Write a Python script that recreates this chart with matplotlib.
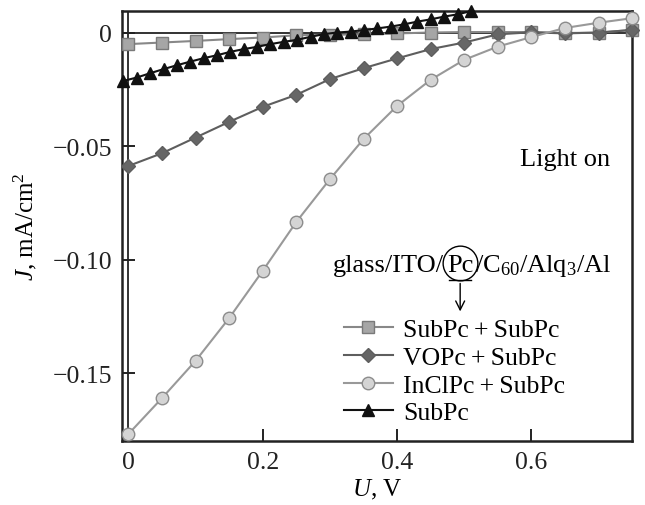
import matplotlib
matplotlib.use("Agg")
import matplotlib.pyplot as plt

plt.rcParams['font.family'] = ['Liberation Serif', 'DejaVu Serif']
plt.rcParams['mathtext.fontset'] = 'custom'
plt.rcParams['mathtext.rm'] = 'Liberation Serif'
plt.rcParams['mathtext.it'] = 'Liberation Serif:italic'

# ---- data ----
u_main = [0.0, 0.05, 0.10, 0.15, 0.20, 0.25, 0.30, 0.35, 0.40, 0.45, 0.50, 0.55, 0.60, 0.65, 0.70, 0.75]
j_subpc_subpc = [-0.0051, -0.0044, -0.0037, -0.0029, -0.0022, -0.0012, -0.0010, -0.0008, -0.0004, 0.0,
                 0.0002, 0.0002, 0.0002, -0.0002, -0.0001, 0.0012]
j_vopc_subpc = [-0.0587, -0.0531, -0.0462, -0.0393, -0.0327, -0.0274, -0.0205, -0.0157, -0.0114, -0.0073,
                -0.0044, -0.0008, 0.0001, -0.0004, 0.0, 0.0011]
j_inclpc_subpc = [-0.1766, -0.1608, -0.1444, -0.1256, -0.1048, -0.0833, -0.0645, -0.0469, -0.0323, -0.0208,
                  -0.0120, -0.0062, -0.0020, 0.0020, 0.0043, 0.0063]
u_subpc = [-0.0075, 0.0124, 0.0323, 0.0522, 0.0721, 0.0920, 0.1119, 0.1318, 0.1517, 0.1716, 0.1915,
           0.2114, 0.2313, 0.2512, 0.2711, 0.2910, 0.3109, 0.3308, 0.3507, 0.3706, 0.3905, 0.4104,
           0.4303, 0.4502, 0.4701, 0.4900, 0.5099]
j_subpc = [-0.0213, -0.0198, -0.0179, -0.0161, -0.0144, -0.0128, -0.0113, -0.0100, -0.0085, -0.0073,
           -0.0063, -0.0051, -0.0041, -0.0032, -0.0019, -0.0007, 0.0, 0.0004, 0.0011, 0.0018, 0.0026,
           0.0036, 0.0048, 0.0058, 0.0070, 0.0080, 0.0094]

labels = ["SubPc\u2009+\u2009SubPc", "VOPc\u2009+\u2009SubPc", "InClPc\u2009+\u2009SubPc", "SubPc"]
x_ticks = [0, 0.2, 0.4, 0.6]
x_ticklabels = ["0", "0.2", "0.4", "0.6"]
y_ticks = [0, -0.05, -0.10, -0.15]
y_ticklabels = ["0", "\u22120.05", "\u22120.10", "\u22120.15"]

fig = plt.figure(figsize=(6.45, 5.06), dpi=100)
ax = fig.add_axes([0.189, 0.1265, 0.791, 0.8495])

ax.axhline(0, color='#333333', lw=1.4, zorder=1)
ax.axvline(0, color='#333333', lw=1.4, zorder=1)

l1, = ax.plot(u_main, j_subpc_subpc, '-s', color='#888888', mfc='#a6a6a6', mec='#7a7a7a',
              ms=9, lw=1.5, mew=1.0, zorder=3, clip_on=False)
l2, = ax.plot(u_main, j_vopc_subpc, '-D', color='#5e5e5e', mfc='#666666', mec='#5e5e5e',
              ms=7.5, lw=1.5, mew=1.0, zorder=4, clip_on=False)
l3, = ax.plot(u_main, j_inclpc_subpc, '-o', color='#999999', mfc='#d4d4d4', mec='#8c8c8c',
              ms=9, lw=1.5, mew=1.0, zorder=5, clip_on=False)
l4, = ax.plot(u_subpc, j_subpc, '-^', color='#111111', mfc='#111111', mec='#111111',
              ms=9, lw=1.5, zorder=6, clip_on=False)

ax.set_xlim(-0.0098, 0.75)
ax.set_ylim(-0.1797, 0.0094)

ax.set_xticks(x_ticks)
ax.set_xticklabels(x_ticklabels)
ax.set_yticks(y_ticks)
ax.set_yticklabels(y_ticklabels)
ax.tick_params(direction='in', length=9, width=1.4, labelsize=18.5, pad=7, colors='#222222')
for s in ax.spines.values():
    s.set_linewidth(1.8)
    s.set_color('#222222')

ax.set_xlabel("$U$, V", fontsize=18, labelpad=3)
ax.set_ylabel("$J$, mA/cm$^2$", fontsize=18, labelpad=10)

ax.text(0.65, -0.0557, "Light on", fontsize=19, ha='center', va='center')

# structure annotation
ty = 0.41  # axes fraction y of text center
ax.text(0.632, ty, "glass/ITO/", fontsize=19, ha='right', va='center', transform=ax.transAxes)
ax.text(0.663, ty, "Pc", fontsize=19, ha='center', va='center', transform=ax.transAxes)
ax.text(0.693, ty, "/C$_{60}$/Alq$_3$/Al", fontsize=19, ha='left', va='center', transform=ax.transAxes)
ax.plot([0.641, 0.685], [ty - 0.036, ty - 0.036], color='k', lw=1.0, transform=ax.transAxes)
ax.plot([0.663], [ty + 0.003], 'o', mfc='none', mec='k', ms=25, mew=1.0, transform=ax.transAxes)
ax.annotate("", xy=(0.663, 0.295), xytext=(0.663, ty - 0.037), xycoords='axes fraction',
            arrowprops=dict(arrowstyle='->', color='k', lw=1.0, mutation_scale=16))

leg = ax.legend([l1, l2, l3, l4], labels, loc='upper left', bbox_to_anchor=(0.40, 0.327),
                frameon=False, fontsize=18.5, handlelength=1.9, handletextpad=0.4,
                labelspacing=0.18, borderpad=0.2)

fig.savefig("out.png", dpi=100)
